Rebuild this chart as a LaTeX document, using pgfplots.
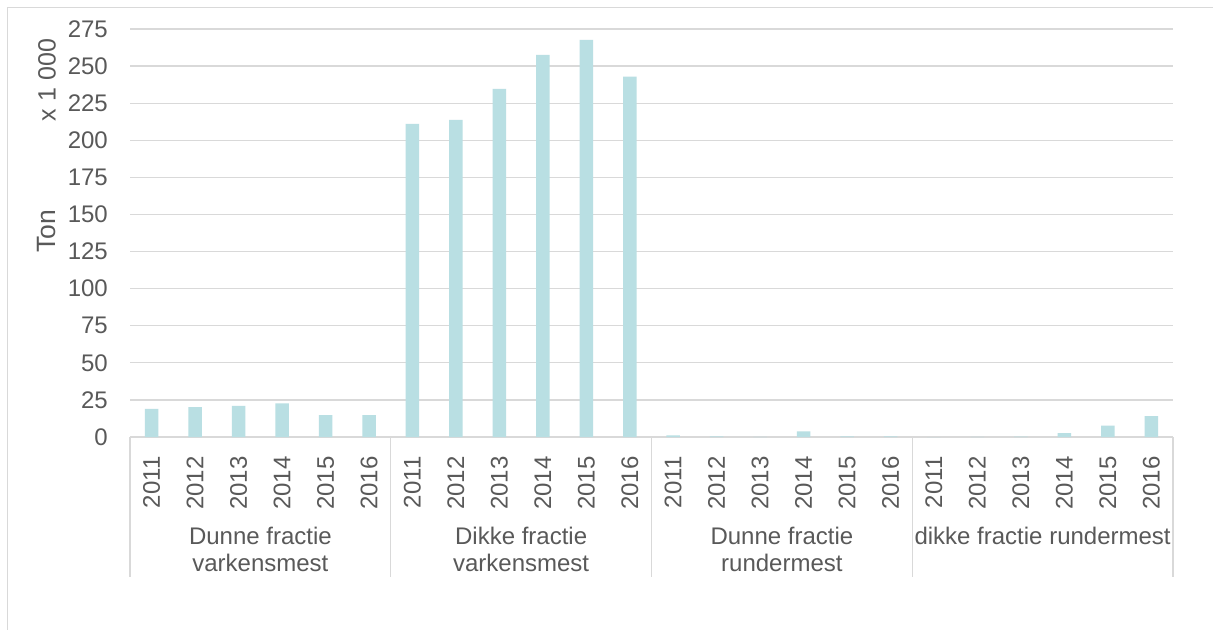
\documentclass[border=0pt]{standalone}
\usepackage{fontspec}
\setmainfont{Liberation Sans}
\usepackage{pgfplots}
\pgfplotsset{compat=1.18}
\definecolor{barc}{RGB}{185,223,227}
\definecolor{gridc}{RGB}{217,217,217}
\definecolor{txt}{RGB}{89,89,89}
\begin{document}
\fontsize{24bp}{27bp}\selectfont
\begin{tikzpicture}[x=1bp,y=1bp]
\useasboundingbox (0,0) rectangle (1213,-630);
\fill[white] (0,0) rectangle (1213,-630);
\draw[gridc, line width=1.2bp] (7.5,-640) -- (7.5,-7.5) -- (1230,-7.5);
\node[rotate=90, text=txt, inner sep=0pt, font=\fontsize{26.5bp}{30bp}\selectfont] at (47,-231) {Ton};
\node[rotate=90, text=txt, inner sep=0pt, font=\fontsize{25bp}{30bp}\selectfont] at (47,-80) {x 1 000};
\begin{axis}[
  at={(130bp,-437bp)}, anchor=south west,
  scale only axis, width=1043bp, height=408bp,
  xmin=-0.5, xmax=23.5, ymin=0, ymax=275,
  ytick={0,25,...,275},
  xtick={0,...,23},
  xticklabels={2011,2012,2013,2014,2015,2016,2011,2012,2013,2014,2015,2016,2011,2012,2013,2014,2015,2016,2011,2012,2013,2014,2015,2016},
  ybar, bar width=13.5bp,
  axis line style={draw=none},
  tick style={draw=none},
  ymajorgrids, grid style={gridc, line width=1.2bp},
  clip=false,
  /pgf/number format/assume math mode=true,
  yticklabel style={text=txt, anchor=east, inner sep=0pt, xshift=-22bp},
  xticklabel style={text=txt, rotate=90, anchor=east, inner sep=0pt},
  xticklabel shift={15bp},
  ticklabel style={font=\fontsize{24bp}{27bp}\selectfont},
]
\addplot[ybar, fill=barc, draw=none] coordinates {
(0,19.0) (1,20.2) (2,20.9) (3,22.7) (4,14.8) (5,14.8)
(6,211.0) (7,213.7) (8,234.6) (9,257.5) (10,267.6) (11,242.9)
(12,1.1) (13,0.5) (14,0.1) (15,3.8) (16,0.4) (17,0.4)
(18,0.0) (19,0.05) (20,0.2) (21,2.7) (22,7.6) (23,14.1)
};
\draw[gridc, line width=1.2bp] (axis cs:-0.5,0) -- ([yshift=-140bp]axis cs:-0.5,0);
\draw[gridc, line width=1.2bp] (axis cs:5.5,0) -- ([yshift=-140bp]axis cs:5.5,0);
\draw[gridc, line width=1.2bp] (axis cs:11.5,0) -- ([yshift=-140bp]axis cs:11.5,0);
\draw[gridc, line width=1.2bp] (axis cs:17.5,0) -- ([yshift=-140bp]axis cs:17.5,0);
\draw[gridc, line width=1.2bp] (axis cs:23.5,0) -- ([yshift=-140bp]axis cs:23.5,0);
\node[anchor=north, align=center, inner sep=0pt, text=txt, yshift=-90bp] at (axis cs:2.5,0) {Dunne fractie\\varkensmest};
\node[anchor=north, align=center, inner sep=0pt, text=txt, yshift=-90bp] at (axis cs:8.5,0) {Dikke fractie\\varkensmest};
\node[anchor=north, align=center, inner sep=0pt, text=txt, yshift=-90bp] at (axis cs:14.5,0) {Dunne fractie\\rundermest};
\node[anchor=north, align=center, inner sep=0pt, text=txt, yshift=-90bp] at (axis cs:20.5,0) {dikke fractie rundermest};
\end{axis}
\end{tikzpicture}
\end{document}
